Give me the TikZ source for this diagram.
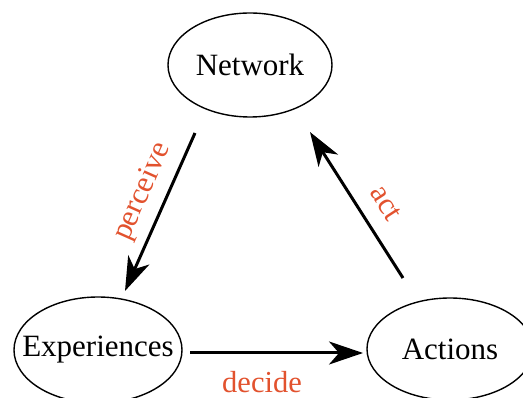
\documentclass[tikz,border=0pt]{standalone}
\usepackage{fontspec}
\setmainfont{Liberation Serif}
\usetikzlibrary{arrows.meta}
\definecolor{labelred}{RGB}{226,82,46}
\begin{document}
\begin{tikzpicture}[x=1pt,y=-1pt,
  state/.style={inner sep=0pt, font=\fontsize{31}{36}\selectfont},
  rim/.style={draw=black, line width=1.4pt},
  flow/.style={line width=3pt, -{Stealth[length=34pt,width=23pt,inset=10pt]}},
  tag/.style={text=labelred, inner sep=0pt, font=\fontsize{30.5}{35}\selectfont}]
\useasboundingbox (0,0) rectangle (523,398);
\clip (0,0) rectangle (523,398);

% the three states, each text inside its own ellipse
\node[state] (net) at (250,65) {Network};
\node[state] (exp) at (98,350) {Experiences};
\node[state] (act) at (450,349) {Actions};
\draw[rim] (net.center) ellipse [x radius=82, y radius=52];
\draw[rim] (exp.center) ellipse [x radius=84, y radius=53];
\draw[rim] (act.center) ellipse [x radius=83, y radius=51];

% arrow end points, set a little away from the ellipses
\coordinate (p0) at (195,133);
\coordinate (p1) at (125,291);
\coordinate (d0) at (190,353);
\coordinate (d1) at (363,353);
\coordinate (a0) at (403,278);
\coordinate (a1) at (310,132);

\draw[flow] (p0) -- (p1);
\draw[flow] (d0) -- (d1);
\draw[flow] (a0) -- (a1);

% edge labels
\node[tag, rotate=66] (lp) at (143,192) {perceive};
\node[tag] (ld) at (262,382) {decide};
\node[tag, rotate=-57] (la) at (386,203) {act};
\end{tikzpicture}
\end{document}
